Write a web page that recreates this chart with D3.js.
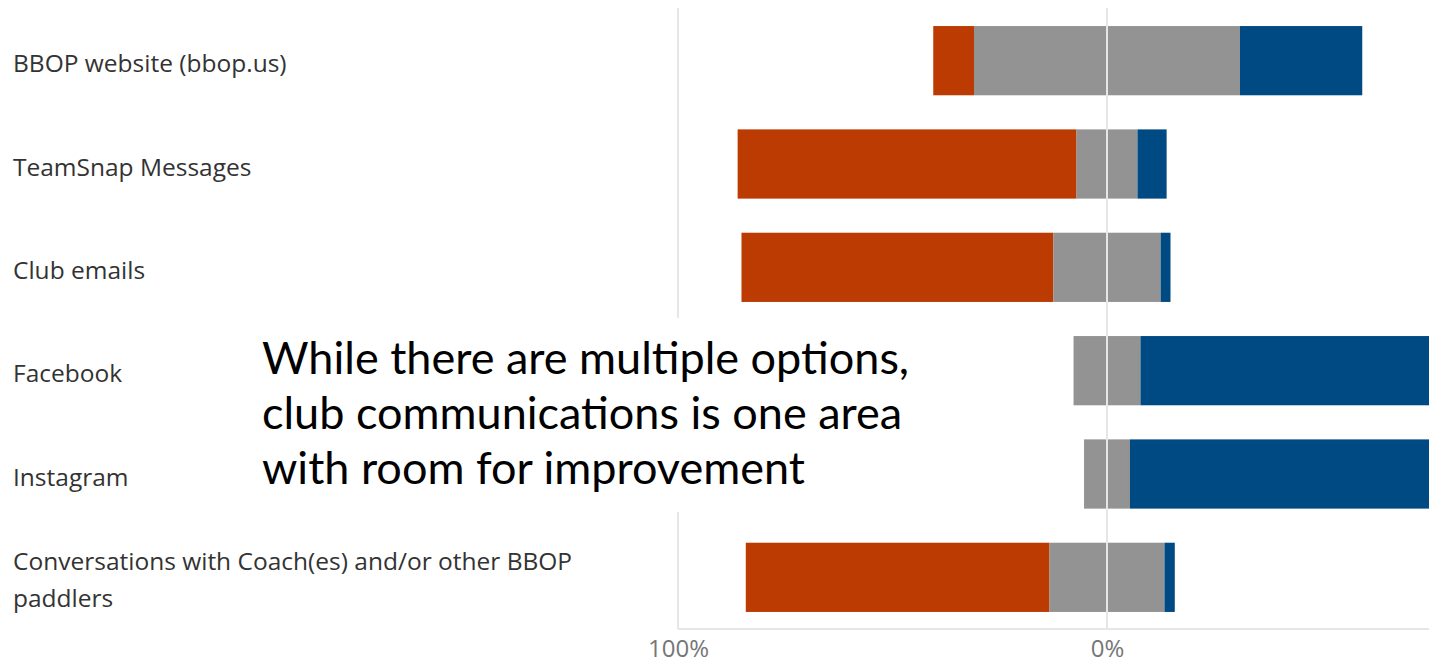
<!DOCTYPE html>
<html>
<head>
<meta charset="utf-8">
<script src="https://cdn.jsdelivr.net/npm/d3@7"></script>
<style>
  body { margin: 0; background: #fff; }
  svg { display: block; }
</style>
</head>
<body>
<svg id="chart" width="1429" height="663"></svg>
<script>
// shares in percent
const categories = [
    'BBOP website (bbop.us)',
    'TeamSnap Messages',
    'Club emails',
    'Facebook',
    'Instagram',
    'Conversations with Coach(es) and/or other BBOP paddlers'
];
const negative = [9.5, 79, 72.7, 0, 0, 70.8];
const neutral = [62, 14.2, 25, 15.6, 10.7, 26.8];
const positive = [28.5, 6.8, 2.3, 84.4, 89.3, 2.4];
const tickLabels = ['100%', '0%'];
const note = [
    'While there are multiple options,',
    'club communications is one area',
    'with room for improvement'
];

const colors = {neg: '#bb3b02', neu: '#939393', pos: '#004a83'};

let svg = d3.select('#chart'),
    width = +svg.attr('width'),
    height = +svg.attr('height');

let x = d3.scaleLinear().domain([-100, 100]).range([678, 1536]);
let y = d3.scaleBand().domain(categories).range([9, 629]).paddingInner(0.33).paddingOuter(0.165);

let rows = categories.map((c, i) => {
    let start = -negative[i] - neutral[i] / 2;
    return [
        {cat: c, key: 'neg', x0: start, x1: start + negative[i]},
        {cat: c, key: 'neu', x0: start + negative[i], x1: start + negative[i] + neutral[i]},
        {cat: c, key: 'pos', x0: start + negative[i] + neutral[i], x1: start + 100}
    ].filter(d => d.x1 - d.x0 > 0);
}).flat();

// gridlines
let ticks = [-100, 0];
svg.append('g')
    .selectAll('line')
    .data(ticks)
    .enter()
    .append('line')
    .attr('x1', d => x(d)).attr('x2', d => x(d))
    .attr('y1', 8).attr('y2', 629)
    .attr('stroke', '#e6e6e6')
    .attr('stroke-width', 2);

svg.append('line')
    .attr('x1', x(-100)).attr('x2', width)
    .attr('y1', 629).attr('y2', 629)
    .attr('stroke', '#e6e6e6')
    .attr('stroke-width', 2);

// bars
svg.append('g')
    .selectAll('rect')
    .data(rows)
    .enter()
    .append('rect')
    .attr('x', d => x(d.x0))
    .attr('width', d => x(d.x1) - x(d.x0))
    .attr('y', d => y(d.cat))
    .attr('height', y.bandwidth())
    .attr('fill', d => colors[d.key]);

// zero line drawn over the bars
svg.append('line')
    .attr('x1', x(0)).attr('x2', x(0))
    .attr('y1', 8).attr('y2', 629)
    .attr('stroke', '#e6e6e6')
    .attr('stroke-width', 2);

// axis labels
let axis = d3.axisBottom(x)
    .tickValues(ticks)
    .tickFormat((d, i) => tickLabels[i])
    .tickSize(0)
    .tickPadding(11);

let ax = svg.append('g')
    .attr('transform', 'translate(0,' + 629 + ')')
    .call(axis);
ax.select('.domain').remove();
ax.selectAll('text')
    .attr('font-family', '"Open Sans", sans-serif')
    .attr('font-size', 24)
    .attr('fill', '#767676');

// category labels, wrapped
let labels = svg.append('g')
    .selectAll('text')
    .data(categories)
    .enter()
    .append('text')
    .attr('x', 13)
    .attr('font-family', '"Open Sans", sans-serif')
    .attr('font-size', 24.5)
    .attr('fill', '#333');

labels.each(function (d) {
    let t = d3.select(this);
    let lines = d.length > 40 ? ['Conversations with Coach(es) and/or other BBOP', 'paddlers'] : [d];
    let cy = y(d) + y.bandwidth() / 2 + 3;
    lines.forEach((l, i) => {
        t.append('tspan')
            .attr('x', 13)
            .attr('y', cy + (i - (lines.length - 1) / 2) * 37)
            .attr('dy', '0.35em')
            .text(l);
    });
});

// annotation box
svg.append('rect')
    .attr('x', 250).attr('y', 318)
    .attr('width', 700).attr('height', 194)
    .attr('fill', '#fff');

svg.append('g')
    .selectAll('text')
    .data(note)
    .enter()
    .append('text')
    .attr('x', 262)
    .attr('y', (d, i) => 374 + i * 55)
    .attr('font-family', 'Lato, sans-serif')
    .attr('font-size', 45)
    .attr('fill', '#000')
    .text(d => d);
</script>
</body>
</html>
